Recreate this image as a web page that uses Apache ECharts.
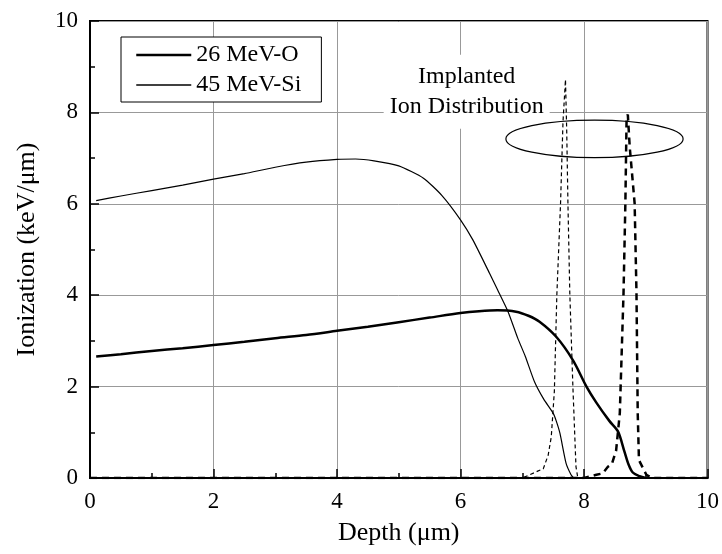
<!DOCTYPE html>
<html>
<head>
<meta charset="utf-8">
<script src="https://cdn.jsdelivr.net/npm/echarts@6/dist/echarts.min.js"></script>
<style>
  html, body { margin: 0; padding: 0; background: #fff; }
  #main { width: 722px; height: 554px; }
</style>
</head>
<body>
<div id="main"></div>
<script>
// depth (um) / ionization (keV/um)
var oDepth = [0.1, 0.5, 1, 1.5, 2, 2.5, 3, 3.5, 4, 4.5, 5, 5.5, 6, 6.3, 6.6, 6.9, 7.1, 7.28, 7.55, 7.82, 8.04, 8.2, 8.41, 8.55, 8.65, 8.72, 8.79, 8.9, 9.0]
var oIon = [2.66, 2.71, 2.78, 2.84, 2.91, 2.98, 3.06, 3.13, 3.22, 3.31, 3.41, 3.51, 3.61, 3.65, 3.67, 3.64, 3.55, 3.42, 3.09, 2.58, 2.0, 1.65, 1.25, 1.02, 0.6, 0.3, 0.12, 0.04, 0]

var siDepth = [0.1, 0.5, 1, 1.5, 2, 2.5, 3, 3.5, 4, 4.3, 4.6, 5.0, 5.4, 5.7, 6.0, 6.2, 6.47, 6.6, 6.77, 6.93, 7.05, 7.2, 7.35, 7.5, 7.55, 7.61, 7.71, 7.79, 7.83]
var siIon = [6.07, 6.17, 6.29, 6.41, 6.54, 6.66, 6.80, 6.91, 6.97, 6.98, 6.94, 6.83, 6.56, 6.18, 5.65, 5.21, 4.48, 4.12, 3.64, 3.05, 2.66, 2.1, 1.72, 1.42, 1.25, 0.98, 0.32, 0.07, 0]

// implanted ion distributions (dashed)
var siImpDepth = [0, 7.0, 7.12, 7.25, 7.34, 7.42, 7.47, 7.52, 7.56, 7.62, 7.66, 7.70, 7.72, 7.74, 7.77, 7.82, 7.87, 7.9, 10]
var siImpVal = [0, 0, 0.07, 0.15, 0.2, 0.5, 0.9, 1.9, 4.0, 6.0, 7.8, 8.72, 7.6, 6.0, 4.05, 2.0, 0.25, 0, 0]

var oImpDepth = [0, 8.0, 8.2, 8.3, 8.39, 8.45, 8.52, 8.58, 8.64, 8.67, 8.69, 8.71, 8.74, 8.82, 8.85, 8.87, 8.89, 9.01, 9.1, 10]
var oImpVal = [0, 0, 0.07, 0.1, 0.25, 0.3, 0.6, 1.42, 4.04, 6.01, 7.9, 7.95, 7.25, 6.01, 4.04, 1.42, 0.39, 0.07, 0, 0]

var seriesNames = ['26 MeV-O', '45 MeV-Si']
var noteText = 'Implanted\nIon Distribution'

function pairs(xs, ys) {
    return xs.map((x, i) => [x, ys[i]])
}

var serif = 'Liberation Serif'

var axisCommon = {
    type: 'value',
    min: 0,
    max: 10,
    interval: 2,
    nameLocation: 'middle',
    nameTextStyle: { fontFamily: serif, fontSize: 26, color: '#000' },
    axisLine: { show: true, onZero: false, lineStyle: { color: '#000', width: 2 } },
    axisTick: { show: true, inside: true, length: 9, lineStyle: { color: '#000', width: 1.5 } },
    minorTick: { show: true, splitNumber: 2, length: 5, lineStyle: { color: '#000', width: 1.5 } },
    axisLabel: { fontFamily: serif, fontSize: 23, color: '#000', margin: 12, showMinLabel: true, showMaxLabel: true },
    splitLine: { show: true, lineStyle: { color: '#999', width: 1 } }
}

var chart = echarts.init(document.getElementById('main'))

chart.setOption({
    animation: false,
    backgroundColor: '#fff',
    grid: {
        left: 90, right: 14, top: 21, bottom: 76,
        show: true, borderColor: '#000', borderWidth: 2
    },
    legend: {
        data: [
            { name: seriesNames[0], lineStyle: { color: '#000', width: 2.5 } },
            { name: seriesNames[1], lineStyle: { color: '#000', width: 1.5 } }
        ],
        orient: 'vertical',
        left: 121,
        top: 37,
        padding: [6, 20, 5, 14],
        itemGap: 6,
        itemWidth: 55,
        itemHeight: 14,
        backgroundColor: '#fff',
        borderColor: '#000',
        borderWidth: 1,
        // hide the marker dot, keep only the line sample
        itemStyle: { color: 'rgba(0,0,0,0)', borderColor: 'rgba(0,0,0,0)', borderWidth: 0 },
        textStyle: { fontFamily: serif, fontSize: 24, color: '#000' }
    },
    xAxis: Object.assign({}, axisCommon, {
        name: 'Depth (μm)',
        nameGap: 42
    }),
    yAxis: Object.assign({}, axisCommon, {
        name: 'Ionization (keV/μm)',
        nameGap: 50
    }),
    series: [
        {
            name: seriesNames[0],
            type: 'line',
            symbol: 'none',
            smooth: 0.3,
            lineStyle: { color: '#000', width: 2.5 },
            itemStyle: { color: '#000' },
            data: pairs(oDepth, oIon),
            z: 5
        },
        {
            name: seriesNames[1],
            type: 'line',
            symbol: 'none',
            smooth: 0.2,
            lineStyle: { color: '#000', width: 1.2 },
            itemStyle: { color: '#000' },
            data: pairs(siDepth, siIon),
            z: 5
        },
        {
            name: 'Si implant',
            type: 'line',
            symbol: 'none',
            lineStyle: { color: '#000', width: 1.2, type: [4, 3] },
            data: pairs(siImpDepth, siImpVal),
            z: 4
        },
        {
            name: 'O implant',
            type: 'line',
            symbol: 'none',
            lineStyle: { color: '#000', width: 2.5, type: [7, 5] },
            data: pairs(oImpDepth, oImpVal),
            z: 4
        }
    ]
})

// annotation: label and ellipse placed in data coordinates
var notePos = chart.convertToPixel({ gridIndex: 0 }, [6.1, 8.45])
var ellC = chart.convertToPixel({ gridIndex: 0 }, [8.17, 7.42])
var ellE = chart.convertToPixel({ gridIndex: 0 }, [8.17 + 1.435, 7.42 + 0.41])

chart.setOption({
    graphic: [
        {
            type: 'text',
            x: notePos[0],
            y: notePos[1],
            z: 10,
            style: {
                text: noteText,
                fontFamily: serif,
                fontSize: 24,
                lineHeight: 30,
                fill: '#000',
                align: 'center',
                verticalAlign: 'middle',
                backgroundColor: '#fff',
                padding: [4, 6, 10, 6]
            }
        },
        {
            type: 'ellipse',
            z: 10,
            shape: {
                cx: ellC[0], cy: ellC[1],
                rx: ellE[0] - ellC[0], ry: ellC[1] - ellE[1]
            },
            style: { fill: null, stroke: '#000', lineWidth: 1.2 }
        }
    ]
})
</script>
</body>
</html>
